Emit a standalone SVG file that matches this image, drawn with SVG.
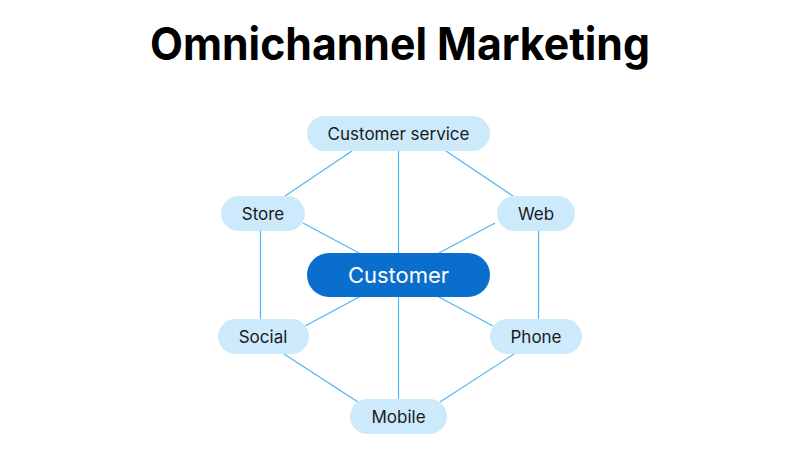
<svg xmlns="http://www.w3.org/2000/svg" width="800" height="450" viewBox="0 0 800 450">
<style>
.edge{stroke:#4db6f4;stroke-width:1.2;fill:none}
.node rect{fill:#cdeafd}
.node text{font-family:Inter,"Noto Sans",sans-serif;font-size:17px;fill:#1a1a1a;text-anchor:middle;dominant-baseline:central}
#customer rect{fill:#0a6fcc}
#customer text{fill:#ffffff;font-size:22px}
.title{font-family:Inter,"Noto Sans",sans-serif;font-weight:700;font-size:45px;fill:#000;text-anchor:middle}
</style>
<rect width="800" height="450" fill="#ffffff"/>
<text class="title" x="400" y="60" textLength="500" lengthAdjust="spacingAndGlyphs">Omnichannel Marketing</text>
<g id="connectors">
<line class="edge" x1="352" y1="151" x2="285" y2="196"/>
<line class="edge" x1="446" y1="151" x2="513" y2="196"/>
<line class="edge" x1="398.5" y1="151" x2="398.5" y2="253"/>
<line class="edge" x1="303" y1="223" x2="359" y2="253"/>
<line class="edge" x1="495" y1="223" x2="439" y2="253"/>
<line class="edge" x1="260.5" y1="231" x2="260.5" y2="320"/>
<line class="edge" x1="538.5" y1="231" x2="538.5" y2="320"/>
<line class="edge" x1="361" y1="296" x2="305" y2="326"/>
<line class="edge" x1="437" y1="296" x2="493" y2="326"/>
<line class="edge" x1="398.5" y1="297" x2="398.5" y2="399"/>
<line class="edge" x1="284" y1="354" x2="358" y2="402"/>
<line class="edge" x1="514" y1="354" x2="440" y2="402"/>
</g>
<g id="customer-service" class="node"><rect x="307" y="116" width="183" height="35" rx="17.5"/><text x="398.5" y="133.5">Customer service</text></g>
<g id="store" class="node"><rect x="221" y="196" width="84" height="35" rx="17.5"/><text x="263" y="213.5">Store</text></g>
<g id="web" class="node"><rect x="497" y="196" width="78" height="35" rx="17.5"/><text x="536" y="213.5">Web</text></g>
<g id="customer" class="node"><rect x="307" y="253" width="183" height="44" rx="22"/><text x="398.5" y="275">Customer</text></g>
<g id="social" class="node"><rect x="218" y="319" width="91" height="35" rx="17.5"/><text x="263" y="336.5">Social</text></g>
<g id="phone" class="node"><rect x="490" y="319" width="92" height="35" rx="17.5"/><text x="536" y="336.5">Phone</text></g>
<g id="mobile" class="node"><rect x="350" y="399" width="97" height="35" rx="17.5"/><text x="398.5" y="416.5">Mobile</text></g>
</svg>
